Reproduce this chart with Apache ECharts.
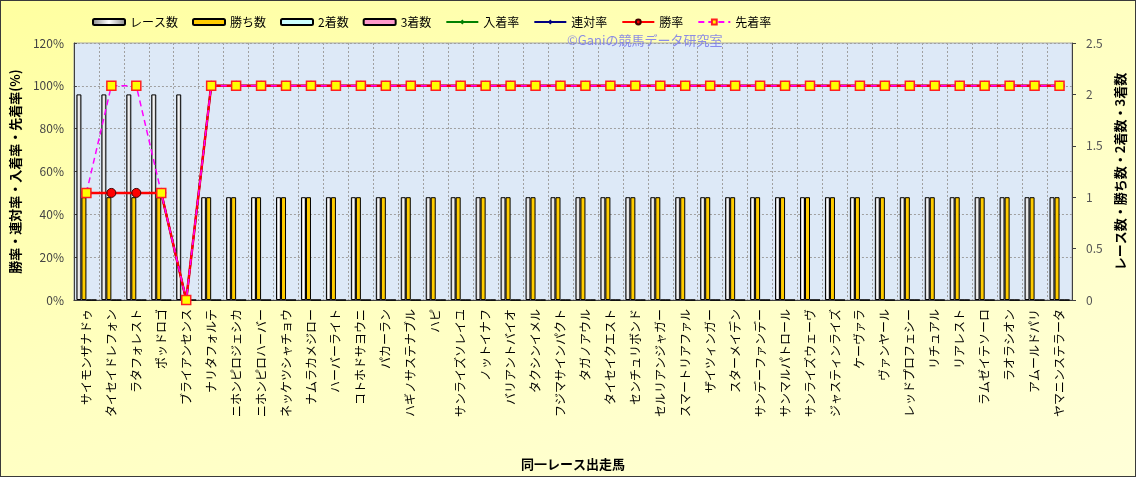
<!DOCTYPE html>
<html><head><meta charset="utf-8">
<script src="https://cdn.jsdelivr.net/npm/echarts@6/dist/echarts.min.js"></script>
<style>
html,body{margin:0;padding:0;}
#c{width:1136px;height:477px;box-sizing:border-box;border:1px solid #3a3a3a;
background:linear-gradient(160deg,#ffffa0 0%,#ffffc0 45%,#ffffd8 100%);}
</style></head><body>
<div id="c"></div>
<script>
const horses = ["サイモンザナドゥ","タイセイドレフォン","ラタフォレスト","ポッドロゴ","ブライアンセンス","ナリタフォルテ","ニホンピロジェシカ","ニホンピロハーバー","ネッケツシャチョウ","ナムラカメジロー","ハーバーライト","コトホドサヨウニ","パカーラン","ハギノサステナブル","ハピ","サンライズソレイユ","ノットイナフ","バリアントバイオ","タクシンイメル","フジマサインパクト","タガノアウル","タイセイクエスト","センチュリボンド","セルリアンジャガー","スマートリアファル","ザイツィンガー","スターメイデン","サンデーファンデー","サンマルパトロール","サンライズウェーヴ","ジャスティンライズ","ケーヴァラ","ヴァンヤール","レッドプロフェシー","リチュアル","リアレスト","ラムゼイテソーロ","ラオラシオン","アムールドパリ","ヤマニンステラータ"];
const raceCount = [2,2,2,2,2,1,1,1,1,1,1,1,1,1,1,1,1,1,1,1,1,1,1,1,1,1,1,1,1,1,1,1,1,1,1,1,1,1,1,1];
const winCount  = [1,1,1,1,0,1,1,1,1,1,1,1,1,1,1,1,1,1,1,1,1,1,1,1,1,1,1,1,1,1,1,1,1,1,1,1,1,1,1,1];
const secondCount = [0,0,0,0,0,0,0,0,0,0,0,0,0,0,0,0,0,0,0,0,0,0,0,0,0,0,0,0,0,0,0,0,0,0,0,0,0,0,0,0];
const thirdCount  = [0,0,0,0,0,0,0,0,0,0,0,0,0,0,0,0,0,0,0,0,0,0,0,0,0,0,0,0,0,0,0,0,0,0,0,0,0,0,0,0];
const placeRate  = [50,50,50,50,0,100,100,100,100,100,100,100,100,100,100,100,100,100,100,100,100,100,100,100,100,100,100,100,100,100,100,100,100,100,100,100,100,100,100,100];
const rentaiRate = [50,50,50,50,0,100,100,100,100,100,100,100,100,100,100,100,100,100,100,100,100,100,100,100,100,100,100,100,100,100,100,100,100,100,100,100,100,100,100,100];
const winRate    = [50,50,50,50,0,100,100,100,100,100,100,100,100,100,100,100,100,100,100,100,100,100,100,100,100,100,100,100,100,100,100,100,100,100,100,100,100,100,100,100];
const senchakuRate = [50,100,100,50,0,100,100,100,100,100,100,100,100,100,100,100,100,100,100,100,100,100,100,100,100,100,100,100,100,100,100,100,100,100,100,100,100,100,100,100];
const leftTicks = {min:0, max:120, interval:20};
const rightTicks = {min:0, max:2.5, interval:0.5};

const FONT = '"Noto Sans CJK JP","Noto Sans",sans-serif';
const chart = echarts.init(document.getElementById('c'), null, {renderer:'canvas'});
const barW = 5;
const whiteGrad = new echarts.graphic.LinearGradient(0,0,1,0,[
  {offset:0,color:'#8a8a8a'},{offset:0.5,color:'#ffffff'},{offset:1,color:'#8a8a8a'}]);
chart.setOption({
  animation:false,
  textStyle:{fontFamily:FONT},
  legend:{
    left:86, top:10, itemWidth:32, itemHeight:6, itemGap:14,
    textStyle:{fontSize:12,color:'#000',fontFamily:FONT},
    data:['レース数','勝ち数','2着数','3着数','入着率','連対率','勝率','先着率']
  },
  graphic:[{
    type:'text', left:566, top:33, z:100,
    style:{text:'©Ganiの競馬データ研究室', fill:'rgba(120,120,235,0.85)', font:'13px '+FONT}
  }],
  grid:{left:72, right:63, top:42, bottom:175, show:true, backgroundColor:'#dde9f7', borderColor:'#a8a8a8', borderWidth:1},
  xAxis:{
    type:'category', data:horses, boundaryGap:true,
    axisLine:{lineStyle:{color:'#404040'}},
    axisTick:{show:false},
    splitLine:{show:true, lineStyle:{color:'#a0a0a0', type:[2,2], width:1}},
    axisLabel:{interval:0, rotate:90, fontSize:12, color:'#000', margin:9, fontFamily:FONT},
    name:'同一レース出走馬', nameLocation:'middle', nameGap:158,
    nameTextStyle:{fontSize:13, fontWeight:'bold', color:'#000', fontFamily:FONT}
  },
  yAxis:[{
    type:'value', min:leftTicks.min, max:leftTicks.max, interval:leftTicks.interval, position:'left',
    axisLine:{show:true, lineStyle:{color:'#404040'}},
    axisTick:{show:true, inside:true, length:3, lineStyle:{color:'#404040'}},
    axisLabel:{formatter:'{value}%', fontSize:12, color:'#444', margin:10, fontFamily:FONT},
    splitLine:{show:true, lineStyle:{color:'#a0a0a0', type:[2,2]}},
    name:'勝率・連対率・入着率・先着率(%)', nameLocation:'middle', nameGap:47,
    nameTextStyle:{fontSize:13, fontWeight:'bold', color:'#000', fontFamily:FONT}
  },{
    type:'value', min:rightTicks.min, max:rightTicks.max, interval:rightTicks.interval, position:'right',
    axisLine:{show:true, lineStyle:{color:'#404040'}},
    axisTick:{show:true, length:4, lineStyle:{color:'#404040'}},
    axisLabel:{fontSize:12, color:'#555', margin:14, fontFamily:FONT},
    splitLine:{show:false},
    name:'レース数・勝ち数・2着数・3着数', nameLocation:'middle', nameGap:42,
    nameTextStyle:{fontSize:13, fontWeight:'bold', color:'#000', fontFamily:FONT}
  }],
  series:[
    {name:'レース数', type:'bar', yAxisIndex:1, data:raceCount, barWidth:barW, barGap:'0%',
     itemStyle:{color:whiteGrad, borderColor:'#000', borderWidth:1}},
    {name:'勝ち数', type:'bar', yAxisIndex:1, data:winCount, barWidth:barW, barGap:'0%',
     itemStyle:{color:'#ffcc00', borderColor:'#000', borderWidth:1}},
    {name:'2着数', type:'bar', yAxisIndex:1, data:secondCount, barWidth:barW, barGap:'0%',
     itemStyle:{color:'#ccffff', borderColor:'#000', borderWidth:1}},
    {name:'3着数', type:'bar', yAxisIndex:1, data:thirdCount, barWidth:barW, barGap:'0%',
     itemStyle:{color:'#ff99cc', borderColor:'#000', borderWidth:1}},
    {name:'入着率', type:'line', yAxisIndex:0, data:placeRate, symbol:'diamond', symbolSize:6,
     lineStyle:{color:'#008000', width:1.5}, itemStyle:{color:'#008000'}},
    {name:'連対率', type:'line', yAxisIndex:0, data:rentaiRate, symbol:'diamond', symbolSize:6,
     lineStyle:{color:'#000080', width:2}, itemStyle:{color:'#000080'}},
    {name:'勝率', type:'line', yAxisIndex:0, data:winRate, symbol:'circle', symbolSize:9,
     lineStyle:{color:'#ff0000', width:2.5}, itemStyle:{color:'#ff0000', borderColor:'#400000', borderWidth:1}},
    {name:'先着率', type:'line', yAxisIndex:0, data:senchakuRate, symbol:'rect', symbolSize:9,
     lineStyle:{color:'#ff00ff', width:1.5, type:[6,4]}, itemStyle:{color:'#ffff00', borderColor:'#ff2020', borderWidth:1.5}}
  ]
});
</script>
</body></html>
